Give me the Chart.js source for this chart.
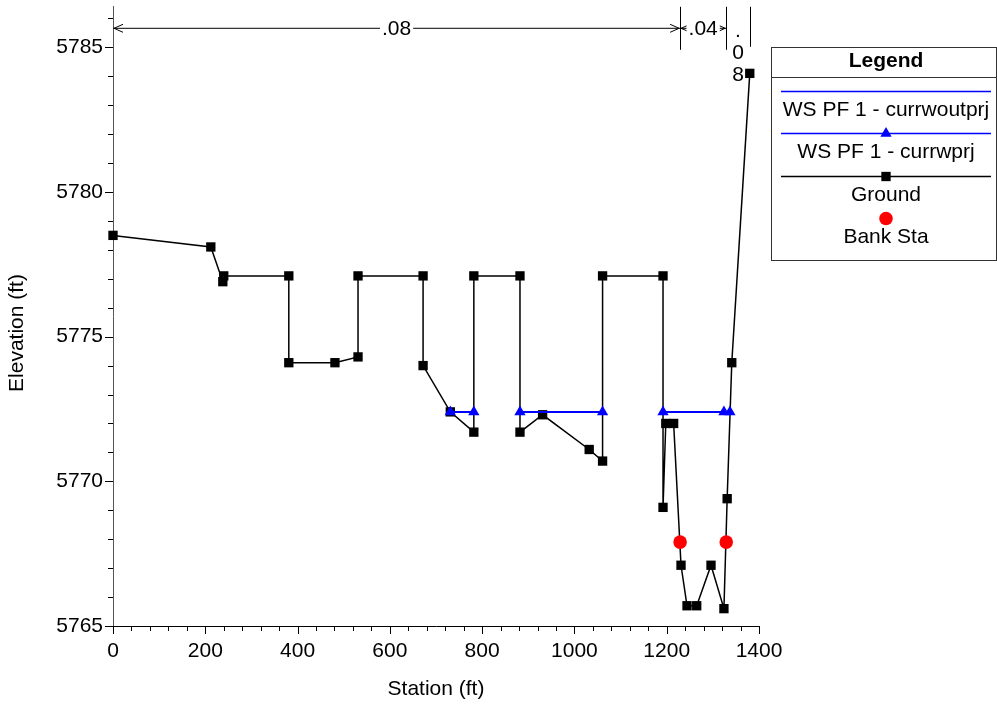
<!DOCTYPE html>
<html>
<head>
<meta charset="utf-8">
<script src="https://cdn.jsdelivr.net/npm/chart.js@4.4.0/dist/chart.umd.min.js"></script>
<style>
  html, body { margin: 0; padding: 0; background: #fff; }
  #wrap { width: 997px; height: 704px; }
</style>
</head>
<body>
<div id="wrap"><canvas id="chart" width="997" height="704"></canvas></div>
<script>
// ground profile (station ft, elevation ft)
var groundSta = [0, 212, 238, 240, 381, 381, 481, 531, 531, 672, 672, 731, 782, 782, 882, 882, 931, 1032, 1061, 1061,
  1192, 1192, 1198, 1215, 1231, 1244, 1265, 1296, 1324, 1331, 1341, 1380];
var groundElev = [5778.5, 5778.1, 5776.9, 5777.1, 5777.1, 5774.1, 5774.1, 5774.3, 5777.1, 5777.1, 5774.0, 5772.4, 5771.7, 5777.1, 5777.1, 5771.7, 5772.3, 5771.1, 5770.7, 5777.1,
  5777.1, 5769.1, 5772.0, 5772.0, 5767.1, 5765.7, 5765.7, 5767.1, 5765.6, 5769.4, 5774.1, 5784.1];

// water surface, null = dry gap between wet sections
var wsSta = [731, 782, null, 882, 1061, null, 1192, 1324, 1337];
var wsOutElev = [5772.4, 5772.4, null, 5772.4, 5772.4, null, 5772.4, 5772.4, 5772.4];
var wsPrjElev = [5772.4, 5772.4, null, 5772.4, 5772.4, null, 5772.4, 5772.4, 5772.4];

// bank stations
var bankSta = [1229, 1329];
var bankElev = [5767.9, 5767.9];

// manning's n regions
var nBreaks = [0, 1229, 1329, 1380];
var nValues = ['.08', '.04', '.08'];

var xTicks = [0, 200, 400, 600, 800, 1000, 1200, 1400];
var yTicks = [5765, 5770, 5775, 5780, 5785];

function pts(xs, ys) {
  return xs.map(function (x, i) {
    return (x === null || ys[i] === null) ? { x: null, y: null } : { x: x, y: ys[i] };
  });
}

Chart.defaults.font.family = 'Arial, "Liberation Sans", sans-serif';
Chart.defaults.font.size = 21;
Chart.defaults.color = '#000';

var FONT = '21px Arial, "Liberation Sans", sans-serif';

var extras = {
  id: 'extras',
  beforeDatasetsDraw: function (chart) {
    var ctx = chart.ctx, sx = chart.scales.x, sy = chart.scales.y, a = chart.chartArea;
    ctx.save();
    ctx.strokeStyle = '#000';
    ctx.lineWidth = 1;
    ctx.beginPath();
    for (var v = yTicks[0]; v <= sy.max; v += 1) {
      var py = Math.round(sy.getPixelForValue(v)) + 0.5;
      var len = yTicks.indexOf(v) >= 0 ? 8 : 5;
      ctx.moveTo(a.left - len, py);
      ctx.lineTo(a.left, py);
    }
    for (var s = 0; s <= sx.max; s += 40) {
      var px = Math.round(sx.getPixelForValue(s)) + 0.5;
      var l2 = xTicks.indexOf(s) >= 0 ? 8 : 5;
      ctx.moveTo(px, a.bottom);
      ctx.lineTo(px, a.bottom + l2);
    }
    ctx.stroke();
    ctx.restore();
  },
  afterDraw: function (chart) {
    var ctx = chart.ctx, sx = chart.scales.x, sy = chart.scales.y, a = chart.chartArea;
    ctx.save();
    ctx.fillStyle = '#000';
    ctx.font = FONT;
    ctx.textAlign = 'center';
    ctx.textBaseline = 'middle';

    // axis titles
    ctx.fillText('Station (ft)', (a.left + a.right) / 2, 689);
    ctx.save();
    ctx.translate(17, 333);
    ctx.rotate(-Math.PI / 2);
    ctx.fillText('Elevation (ft)', 0, 0);
    ctx.restore();

    // manning's n bar along the top
    var yBar = a.top + 21.5;
    ctx.strokeStyle = '#000';
    ctx.lineWidth = 1;
    for (var i = 0; i < nValues.length; i++) {
      var x0 = sx.getPixelForValue(nBreaks[i]);
      var x1 = sx.getPixelForValue(nBreaks[i + 1]);
      var w = ctx.measureText(nValues[i]).width;
      var xl = Math.round(x1) + 0.5;
      ctx.beginPath();
      ctx.moveTo(xl, a.top);
      ctx.lineTo(xl, a.top + (i < nValues.length - 1 ? 43 : 40));
      ctx.stroke();
      if (x1 - x0 > w + 10) {
        var xc = (x0 + x1) / 2;
        ctx.beginPath();
        ctx.moveTo(x0, yBar); ctx.lineTo(x1, yBar);
        ctx.moveTo(x0 + 10, yBar - 4); ctx.lineTo(x0 + 1, yBar); ctx.lineTo(x0 + 10, yBar + 4);
        ctx.moveTo(x1 - 10, yBar - 4); ctx.lineTo(x1 - 1, yBar); ctx.lineTo(x1 - 10, yBar + 4);
        ctx.stroke();
        ctx.fillStyle = '#fff';
        ctx.fillRect(xc - w / 2 - 2, yBar - 10, w + 4, 20);
        ctx.fillStyle = '#000';
        ctx.fillText(nValues[i], xc, yBar + 1);
      } else {
        var xv = (x0 + x1) / 2;
        var chars = nValues[i].split('');
        for (var c = 0; c < chars.length; c++) {
          ctx.fillText(chars[c], xv, a.top + 24 + c * 22);
        }
      }
    }

    // legend box
    var L = 771.5, T = 47.5, R = 996.5, B = 260.5, cx = 886;
    ctx.strokeStyle = '#333';
    ctx.strokeRect(L, T, R - L, B - T);
    ctx.beginPath();
    ctx.moveTo(L, 77.5); ctx.lineTo(R, 77.5);
    ctx.stroke();
    ctx.font = 'bold ' + FONT;
    ctx.fillText('Legend', cx, 61);
    ctx.font = FONT;

    var ds = chart.data.datasets;
    var rows = [
      { d: ds[2], y: 91, ty: 110, line: true },
      { d: ds[1], y: 133, ty: 152, line: true },
      { d: ds[3], y: 176, ty: 195, line: true },
      { d: ds[0], y: 218, ty: 237, line: false }
    ];
    rows.forEach(function (r) {
      if (r.line) {
        ctx.strokeStyle = r.d.borderColor;
        ctx.lineWidth = 1.5;
        ctx.beginPath();
        ctx.moveTo(781, r.y + 0.5); ctx.lineTo(991, r.y + 0.5);
        ctx.stroke();
      }
      if (r.d.pointRadius > 0) {
        ctx.fillStyle = r.d.pointBackgroundColor;
        ctx.strokeStyle = r.d.pointBackgroundColor;
        Chart.helpers.drawPoint(ctx, {
          pointStyle: r.d.pointStyle,
          radius: r.d.pointRadius,
          rotation: 0,
          borderWidth: 0
        }, cx, r.y + 0.5);
      }
      ctx.fillStyle = '#000';
      ctx.fillText(r.d.label, cx, r.ty);
    });
    ctx.restore();
  }
};

function plain(v) { return String(v); }

new Chart(document.getElementById('chart'), {
  type: 'scatter',
  data: {
    datasets: [
      {
        label: 'Bank Sta',
        data: pts(bankSta, bankElev),
        showLine: false,
        pointStyle: 'circle',
        pointRadius: 6.8,
        pointBackgroundColor: '#ff0000',
        pointBorderWidth: 0,
        borderColor: '#ff0000',
        clip: false
      },
      {
        label: 'WS PF 1 - currwprj',
        data: pts(wsSta, wsPrjElev),
        showLine: true,
        spanGaps: false,
        borderColor: '#0000ff',
        borderWidth: 2,
        pointStyle: 'triangle',
        pointRadius: 6.5,
        pointBackgroundColor: '#0000ff',
        pointBorderWidth: 0,
        clip: false
      },
      {
        label: 'WS PF 1 - currwoutprj',
        data: pts(wsSta, wsOutElev),
        showLine: true,
        spanGaps: false,
        borderColor: '#0000ff',
        borderWidth: 2,
        pointRadius: 0,
        clip: false
      },
      {
        label: 'Ground',
        data: pts(groundSta, groundElev),
        showLine: true,
        borderColor: '#000',
        borderWidth: 1.5,
        pointStyle: 'rect',
        pointRadius: 6.6,
        pointBackgroundColor: '#000',
        pointBorderWidth: 0,
        clip: false
      }
    ]
  },
  options: {
    responsive: false,
    animation: false,
    devicePixelRatio: 1,
    events: [],
    layout: { padding: { top: 5, right: 238, left: 0, bottom: 0 } },
    plugins: {
      legend: { display: false },
      tooltip: { enabled: false }
    },
    scales: {
      x: {
        type: 'linear',
        min: 0,
        max: 1400,
        bounds: 'data',
        grid: { display: false, drawTicks: false },
        border: { display: true, color: '#000', width: 1 },
        ticks: { padding: 13, maxRotation: 0, autoSkip: false, callback: plain },
        afterBuildTicks: function (s) { s.ticks = xTicks.map(function (v) { return { value: v }; }); },
        afterFit: function (s) { s.height = 78; s.paddingLeft = 0; s.paddingRight = 0; }
      },
      y: {
        type: 'linear',
        min: 5765,
        max: 5786.4,
        bounds: 'data',
        grid: { display: false, drawTicks: false },
        border: { display: true, color: '#555', width: 1 },
        ticks: { padding: 10, autoSkip: false, callback: plain },
        afterBuildTicks: function (s) { s.ticks = yTicks.map(function (v) { return { value: v }; }); },
        afterFit: function (s) { s.width = 113; s.paddingTop = 0; s.paddingBottom = 0; }
      }
    }
  },
  plugins: [extras]
});
</script>
</body>
</html>
